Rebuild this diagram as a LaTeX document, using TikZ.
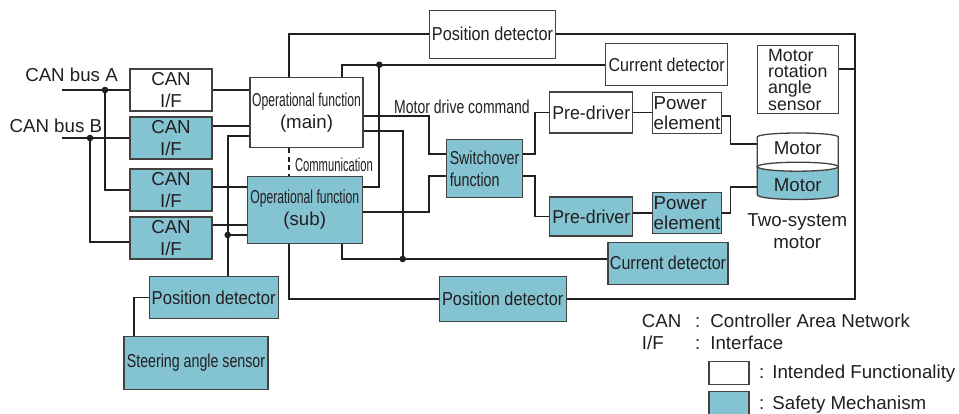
\documentclass[tikz,border=0pt]{standalone}
\usepackage{fontspec}
\setmainfont{Liberation Sans}
\usepackage{graphicx}

\definecolor{safecol}{RGB}{132,195,210}
\definecolor{inkcol}{RGB}{35,31,32}

% horizontally condensed label
\newcommand{\narrow}[2]{\scalebox{#1}[1]{#2}}

\begin{document}
\begin{tikzpicture}[x=1pt,y=-1pt,
    font=\fontsize{18.7}{22}\selectfont, text=inkcol,
    blk/.style={draw=inkcol!85, line width=1.3pt, inner sep=0pt, align=center},
    intended/.style={blk, fill=white},
    safety/.style={blk, fill=safecol},
    canif/.style={minimum width=82, minimum height=42},
    wire/.style={draw=inkcol, line width=1.9pt},
    txt/.style={inner sep=0pt}]
    \useasboundingbox (0,0) rectangle (959,414);

    % CAN interfaces
    \node[intended, canif] (canA) at (171,90) {CAN\\I/F};
    \node[safety, canif] (canB1) at (171,138) {CAN\\I/F};
    \node[safety, canif] (canB2) at (171,190) {CAN\\I/F};
    \node[safety, canif] (canB3) at (171,238) {CAN\\I/F};
    \node[txt] (busAtxt) at (71.5,75) {CAN bus A};
    \node[txt] (busBtxt) at (55.8,126) {CAN bus B};

    % operational functions
    \node[intended, minimum width=113, minimum height=70] (opmain) at (306.5,112.6)
        {\narrow{0.65}{Operational function}\\(main)};
    \node[safety, minimum width=115, minimum height=67] (opsub) at (304.7,210)
        {\narrow{0.65}{Operational function}\\(sub)};
    \node[txt] (comtxt) at (334,164.5) {\narrow{0.6}{Communication}};
    \node[txt] (cmdtxt) at (462,107) {\narrow{0.75}{Motor drive command}};

    % detectors and sensors
    \node[intended, minimum width=126, minimum height=48] (posTop) at (492.5,34.2)
        {\narrow{0.87}{Position detector}};
    \node[intended, minimum width=122, minimum height=42] (curTop) at (666.7,64.8)
        {\narrow{0.86}{Current detector}};
    \node[intended, minimum width=81, minimum height=68, align=left,
        font=\fontsize{17.8}{16.2}\selectfont] (angleSens) at (797.8,79.8)
        {Motor\\rotation\\angle\\sensor};
    \node[safety, minimum width=120, minimum height=42] (curBot) at (668,263.2)
        {\narrow{0.86}{Current detector}};
    \node[safety, minimum width=127, minimum height=45] (posBot) at (502.7,299.3)
        {\narrow{0.87}{Position detector}};
    \node[safety, minimum width=129, minimum height=42] (posSub) at (213.7,297.5)
        {\narrow{0.89}{Position detector}};
    \node[safety, minimum width=144, minimum height=53] (steer) at (196,363)
        {\narrow{0.76}{Steering angle sensor}};

    % drive chains
    \node[safety, minimum width=76, minimum height=58, align=left] (switch) at (484.5,168.8)
        {\narrow{0.76}{Switchover}\\\narrow{0.76}{function}};
    \node[intended, minimum width=83, minimum height=41] (preTop) at (591.3,112.5)
        {\narrow{0.95}{Pre-driver}};
    \node[intended, minimum width=69, minimum height=41, align=left,
        font=\fontsize{18.7}{20}\selectfont] (powTop) at (687,112.9) {Power\\element};
    \node[safety, minimum width=83, minimum height=39] (preBot) at (591.3,216.5)
        {\narrow{0.95}{Pre-driver}};
    \node[safety, minimum width=69, minimum height=41, align=left,
        font=\fontsize{18.7}{20}\selectfont] (powBot) at (687,212.7) {Power\\element};

    % CAN buses
    \coordinate (busA) at (62,90);
    \coordinate (busB) at (62,138);
    \coordinate (jA) at (105,90);
    \coordinate (jB) at (90,138);
    \draw[wire] (busA) -- (canA.west);
    \draw[wire] (jA) |- (canB2.west);
    \draw[wire] (busB) -- (canB1.west);
    \draw[wire] (jB) |- ([yshift=-4]canB3.west);
    \fill[inkcol] (jA) circle[radius=3.3] (jB) circle[radius=3.3];

    % interfaces to the operational functions
    \draw[wire] (canA.east) -- (canA.east -| opmain.west);
    \draw[wire] ([yshift=12]canB1.east) -- ([yshift=12]canB1.east -| opmain.west);
    \draw[wire] ([yshift=3]canB2.east) -- ([yshift=3]canB2.east -| opsub.west);
    \draw[wire] ([yshift=13]canB3.east) -- ([yshift=13]canB3.east -| opsub.west);
    \draw[wire, line width=1.4pt, dash pattern=on 5pt off 3.5pt]
        (opmain.south -| comtxt.west) ++(-6,0) coordinate (comA) -- (comA |- opsub.north);

    % steering side position detector
    \coordinate (jPos) at (227.7,235);
    \draw[wire] ([yshift=-23]opmain.west) -| ([xshift=14]posSub.north);
    \draw[wire] (jPos) -- (jPos -| opsub.west);
    \fill[inkcol] (jPos) circle[radius=3.3];
    \draw[wire] (posSub.west) -| ([xshift=-62]steer.north);

    % motor side position detectors and angle sensor
    \coordinate (loopSE) at (855,299.3);
    \draw[wire] ([xshift=-17.8]opmain.north) |- (posTop.west);
    \draw[wire] (posTop.east) -| (loopSE) -- (posBot.east);
    \draw[wire] ([yshift=10.8]angleSens.east) -- ([yshift=10.8]angleSens.east -| loopSE);
    \draw[wire] ([xshift=-16]opsub.south) |- (posBot.west);

    % current detectors
    \coordinate (jCur) at (379.3,64.8);
    \coordinate (jCurB) at (402.7,259);
    \draw[wire] ([xshift=35.8]opmain.north) |- (curTop.west);
    \draw[wire] (jCur) |- ([yshift=23]opsub.east);
    \draw[wire] ([yshift=-18.4]opmain.east) -| (jCurB);
    \draw[wire] ([xshift=37.3]opsub.south) |- ([yshift=4.2]curBot.west);
    \fill[inkcol] (jCur) circle[radius=3.3] (jCurB) circle[radius=3.3];

    % motor drive command
    \coordinate (cmdCol) at (429.3,0);
    \draw[wire] ([yshift=-3.4]opmain.east) -- ([yshift=-3.4]opmain.east -| cmdCol)
        |- ([yshift=14.8]switch.west);
    \draw[wire] ([yshift=-2.3]opsub.east) -- ([yshift=-2.3]opsub.east -| cmdCol)
        |- ([yshift=-7.2]switch.west);

    % switchover to the two drive chains
    \draw[wire] ([yshift=14.8]switch.east) -- ++(11.7,0) |- (preTop.west);
    \draw[wire] ([yshift=-7.2]switch.east) -- ++(11.7,0) |- (preBot.west);
    \draw[wire] (preTop.east) -- (preTop.east -| powTop.west);
    \draw[wire] (powBot.west -| preBot.east) -- (powBot.west);

    % power elements to the motor
    \coordinate (motA) at (757.3,144);
    \coordinate (motB) at (757.3,187.3);
    \draw[wire] ([yshift=-2.8]powTop.east) -- ++(8.3,0) |- (motA);
    \draw[wire] (powBot.east) -- ++(8.3,0) |- (motB);

    % two-system motor
    \filldraw[fill=white, draw=inkcol!85, line width=1.3pt] (757.3,166.7) -- (757.3,137)
        arc[start angle=180, end angle=0, x radius=40.5pt, y radius=4pt] -- (838.3,166.7) -- cycle;
    \filldraw[fill=safecol, draw=inkcol!85, line width=1.3pt] (757.3,166.7) -- (757.3,195)
        arc[start angle=180, end angle=360, x radius=40.5pt, y radius=4.5pt] -- (838.3,166.7) -- cycle;
    \filldraw[fill=white, draw=inkcol!85, line width=1.3pt] (797.8,166.7)
        ellipse[x radius=40.5pt, y radius=4.5pt];
    \node[txt] (motTop) at (797.8,148.5) {Motor};
    \node[txt] (motBot) at (797.8,185.5) {Motor};
    \node[txt, align=center] (twoSys) at (797.3,230.7) {Two-system\\motor};

    % legend
    \node[txt, anchor=west] (abbrCan) at (641.7,321) {CAN};
    \node[txt, anchor=west] (defCan) at (695,321) {:\hspace{10pt}Controller Area Network};
    \node[txt, anchor=west] (abbrIf) at (641.7,343.3) {I/F};
    \node[txt, anchor=west] (defIf) at (695,343.3) {:\hspace{10pt}Interface};
    \node[intended, minimum width=40, minimum height=23] (keyInt) at (729,372.7) {};
    \node[txt, anchor=west] (defInt) at (759,373.3) {:\hspace{8pt}Intended Functionality};
    \node[safety, minimum width=40, minimum height=23] (keySafe) at (729,403.3) {};
    \node[txt, anchor=west] (defSafe) at (759,405) {:\hspace{8pt}Safety Mechanism};
\end{tikzpicture}
\end{document}
